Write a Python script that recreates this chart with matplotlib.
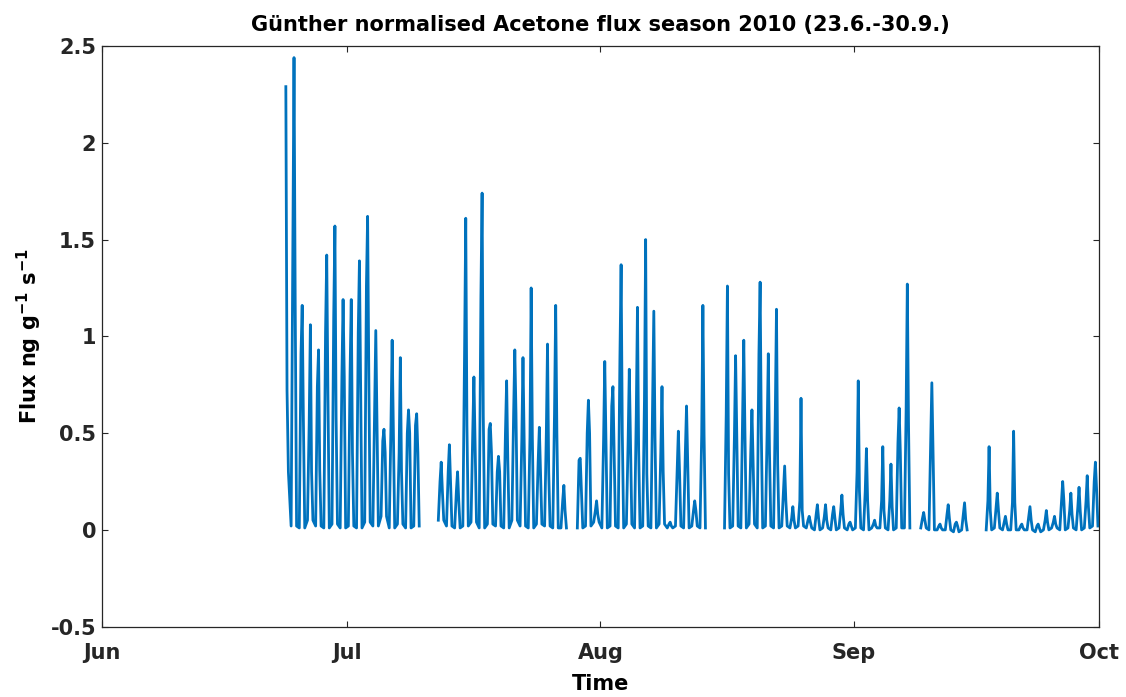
import numpy as np
import pandas as pd
import matplotlib
matplotlib.use('Agg')
import matplotlib.pyplot as plt
import matplotlib.dates as mdates
from datetime import datetime

# Daily flux summary, 23 Jun - 30 Sep 2010 (ng g-1 s-1), NaN = no data
start_day = '2010-06-23'
end_day = '2010-09-30'

peak = [2.29, 2.44, 1.16, 1.06, 0.93, 1.42, 1.57, 1.19, 1.19, 1.39,
        1.62, 1.03, 0.52, 0.98, 0.89, 0.62, 0.60, np.nan, np.nan, 0.35,
        0.44, 0.30, 1.61, 0.79, 1.74, 0.55, 0.38, 0.77, 0.93, 0.89,
        1.25, 0.53, 0.96, 1.16, 0.23, np.nan, 0.37, 0.67, 0.15, 0.87,
        0.74, 1.37, 0.83, 1.15, 1.50, 1.13, 0.74, 0.04, 0.51, 0.64,
        0.15, 1.16, np.nan, np.nan, 1.26, 0.90, 0.98, 0.62, 1.28, 0.91,
        1.14, 0.33, 0.12, 0.68, 0.07, 0.13, 0.13, 0.12, 0.18, 0.04,
        0.77, 0.42, 0.05, 0.43, 0.34, 0.63, 1.27, np.nan, 0.09, 0.76,
        0.03, 0.13, 0.04, 0.14, np.nan, np.nan, 0.43, 0.19, 0.07, 0.51,
        0.03, 0.12, 0.03, 0.10, 0.07, 0.25, 0.19, 0.22, 0.28, 0.35]

# late-morning level before the midday maximum
morning = [1.24, 1.50, 0.91, 0.55, 0.74, 1.02, 1.10, 0.79, 0.81, 1.02,
           1.26, 0.62, 0.46, 0.54, 0.40, 0.50, 0.54, np.nan, np.nan, 0.25,
           0.30, 0.20, 0.91, 0.50, 1.20, 0.52, 0.30, 0.50, 0.60, 0.46,
           0.48, 0.35, 0.50, 0.60, 0.15, np.nan, 0.36, 0.50, 0.10, 0.46,
           0.64, 0.89, 0.45, 0.60, 0.67, 0.67, 0.40, 0.03, 0.30, 0.40,
           0.10, 0.49, np.nan, np.nan, 0.60, 0.48, 0.60, 0.40, 0.91, 0.50,
           0.60, 0.20, 0.06, 0.15, 0.05, 0.08, 0.07, 0.08, 0.10, 0.03,
           0.30, 0.20, 0.03, 0.15, 0.15, 0.45, 0.62, np.nan, 0.06, 0.45,
           0.02, 0.08, 0.03, 0.08, np.nan, np.nan, 0.15, 0.12, 0.04, 0.14,
           0.02, 0.07, 0.02, 0.05, 0.04, 0.15, 0.10, 0.12, 0.15, 0.25]

# afternoon level after the maximum
afternoon = [0.72, 1.17, 0.57, 0.30, 0.31, 0.71, 0.58, 0.79, 0.40, 0.76,
             0.81, 0.55, 0.40, 0.54, 0.30, 0.50, 0.40, np.nan, np.nan, 0.20,
             0.25, 0.15, 0.54, 0.45, 0.59, 0.40, 0.30, 0.36, 0.60, 0.46,
             0.48, 0.30, 0.30, 0.50, 0.10, np.nan, 0.20, 0.50, 0.08, 0.46,
             0.40, 0.50, 0.45, 0.41, 0.29, 0.48, 0.30, 0.02, 0.30, 0.35,
             0.10, 0.49, np.nan, np.nan, 0.29, 0.48, 0.50, 0.35, 0.50, 0.40,
             0.34, 0.15, 0.05, 0.10, 0.04, 0.06, 0.05, 0.06, 0.08, 0.02,
             0.20, 0.15, 0.02, 0.10, 0.12, 0.40, 0.55, np.nan, 0.05, 0.40,
             0.01, 0.06, 0.02, 0.05, np.nan, np.nan, 0.10, 0.10, 0.03, 0.14,
             0.01, 0.05, 0.01, 0.04, 0.03, 0.15, 0.08, 0.10, 0.12, 0.21]

night = [0.30, 0.02, 0.01, 0.05, 0.02, 0.01, 0.03, 0.01, 0.02, 0.01,
         0.04, 0.02, 0.07, 0.01, 0.03, 0.01, 0.02, np.nan, np.nan, 0.05,
         0.02, 0.01, 0.02, 0.04, 0.01, 0.03, 0.02, 0.01, 0.05, 0.02,
         0.01, 0.03, 0.02, 0.01, 0.01, np.nan, 0.01, 0.02, 0.04, 0.01,
         0.02, 0.01, 0.03, 0.01, 0.02, 0.01, 0.03, 0.01, 0.02, 0.01,
         0.02, 0.01, np.nan, np.nan, 0.01, 0.02, 0.01, 0.03, 0.01, 0.02,
         0.01, 0.02, 0.01, 0.02, 0.01, 0.00, 0.01, 0.00, 0.01, 0.00,
         0.01, 0.00, 0.01, 0.01, 0.00, 0.01, 0.01, np.nan, 0.01, 0.00,
         0.00, 0.00, -0.01, 0.00, np.nan, np.nan, 0.00, 0.01, 0.00, 0.00,
         0.00, 0.00, -0.01, 0.00, 0.01, 0.00, 0.01, 0.00, 0.01, 0.02]

y_ticks = [-0.5, 0, 0.5, 1, 1.5, 2, 2.5]
y_ticklabels = ['-0.5', '0', '0.5', '1', '1.5', '2', '2.5']

# sampling hours of the diurnal course
hours = np.array([4.0, 9.0, 12.5, 16.0, 20.0])

days = pd.date_range(start_day, end_day, freq='D')
t_all = []
v_all = []
for day, lo, am, pk, pm in zip(days, night, morning, peak, afternoon):
    for h, val in zip(hours, [lo, am, pk, pm, lo]):
        t_all.append(day + pd.Timedelta(hours=float(h)))
        v_all.append(val)
series = pd.Series(v_all, index=pd.DatetimeIndex(t_all))
series = series[series.index >= pd.Timestamp('2010-06-23 12:00')]

plt.rcParams['font.family'] = ['DejaVu Sans']
plt.rcParams['font.weight'] = 'bold'
plt.rcParams['mathtext.default'] = 'bf'

fig = plt.figure(figsize=(11.26, 6.97), dpi=100)
ax = fig.add_axes([0.0903, 0.1009, 0.886, 0.8331])

ax.plot(series.index, series.values, color='#0072BD', linewidth=2.0)

ax.set_xlim(datetime(2010, 6, 1), datetime(2010, 10, 1))
ax.set_ylim(-0.5, 2.5)
ax.set_yticks(y_ticks)
ax.set_yticklabels(y_ticklabels)
ax.xaxis.set_major_locator(mdates.MonthLocator())
ax.xaxis.set_major_formatter(mdates.DateFormatter('%b'))

for sp in ax.spines.values():
    sp.set_color('#262626')
    sp.set_linewidth(0.9)
ax.tick_params(direction='in', length=4, width=0.8, top=True, right=True,
               labelsize=15, colors='#262626')
ax.tick_params(axis='x', pad=11.5)
ax.tick_params(axis='y', pad=4)

ax.set_title('Günther normalised Acetone flux season 2010 (23.6.-30.9.)',
             fontsize=15, fontweight='bold', pad=11)
ax.set_xlabel('Time', fontsize=15, fontweight='bold', labelpad=8)
ax.set_ylabel(r'Flux ng g$^{-1}$ s$^{-1}$', fontsize=15, fontweight='bold')
ax.yaxis.set_label_coords(-0.058, 0.5)

fig.savefig('out.png', dpi=100)
